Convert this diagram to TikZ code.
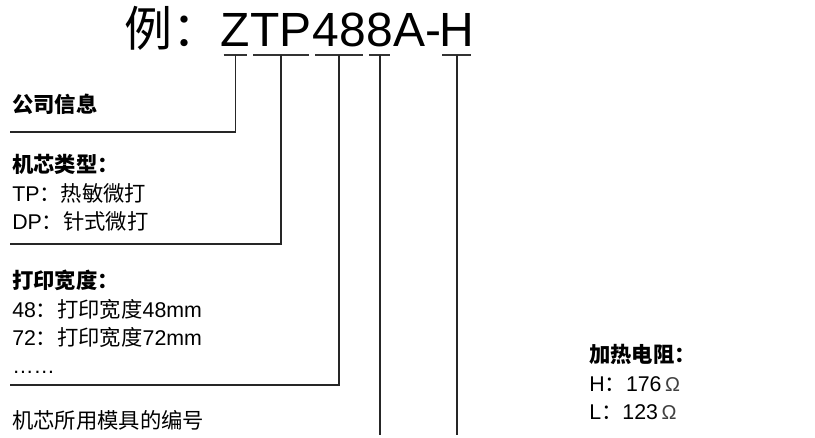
\documentclass[tikz,border=0pt]{standalone}
\usepackage{fontspec}
\setmainfont{Liberation Sans}
\newfontfamily\cjk{Noto Sans CJK SC}
\usetikzlibrary{positioning,calc}

\newcommand\zh[1]{{\cjk #1}}
\newcommand\ohm{\,{\fontsize{15}{15}\selectfont\color{black!75}Ω}}

\begin{document}
\begin{tikzpicture}[x=0.75pt,y=-0.75pt,
  title/.style={inner sep=0pt,anchor=base west,font=\fontsize{36}{36}\selectfont},
  note/.style={inner sep=0pt,anchor=west,align=left,font=\fontsize{16}{21.3}\selectfont},
  uline/.style={line width=1.3pt,black!80},
  link/.style={line width=1.3pt,black!85}]
  \useasboundingbox (0,0) rectangle (815,438);

  % model number
  \node[title] (pli) at (124,47) {\zh{例：}};
  \node[title] (pz) at (pli.base east) {Z};
  \node[title] (ptp) at (pz.base east) {TP};
  \node[title] (p48) at (ptp.base east) {48};
  \node[title] (p8) at (p48.base east) {8};
  \node[title] (pa) at (p8.base east) {A-};
  \node[title] (ph) at ([xshift=-2]pa.base east) {H};

  % underlines under each part
  \foreach \p in {pz,ptp,p48,p8,ph}{
    \draw[uline] ($(\p.base west)+(3,8)$) -- ($(\p.base east)+(-3,8)$);
    \coordinate (u\p) at ($(\p.base)+(0,8)$);
  }

  % explanations
  \node[note] (info) at (12,104) {\bfseries\zh{公司信息}};
  \node[note] (type) at (12,193) {\bfseries\zh{机芯类型：}\\TP\zh{：热敏微打}\\DP\zh{：针式微打}};
  \node[note] (width) at (12,322) {\bfseries\zh{打印宽度：}\\48\zh{：打印宽度}48mm\\72\zh{：打印宽度}72mm\\……};
  \node[note] (mold) at (12,420) {\zh{机芯所用模具的编号}};
  \node[note] (heat) at (589,382) {\bfseries\zh{加热电阻：}\\H\zh{：}176\ohm\\L\zh{：}123\ohm};

  % brackets
  \coordinate (cinfo) at (10,132);
  \coordinate (ctype) at (10,244);
  \coordinate (cwidth) at (10,385);
  \coordinate (cmold) at ($(up8)+(0,380)$);
  \coordinate (cheat) at ($(uph)+(0,380)$);
  \draw[link] (upz) |- (cinfo);
  \draw[link] (uptp) |- (ctype);
  \draw[link] (up48) |- (cwidth);
  \draw[link] (up8) -- (cmold);
  \draw[link] (uph) -- (cheat);
\end{tikzpicture}
\end{document}
